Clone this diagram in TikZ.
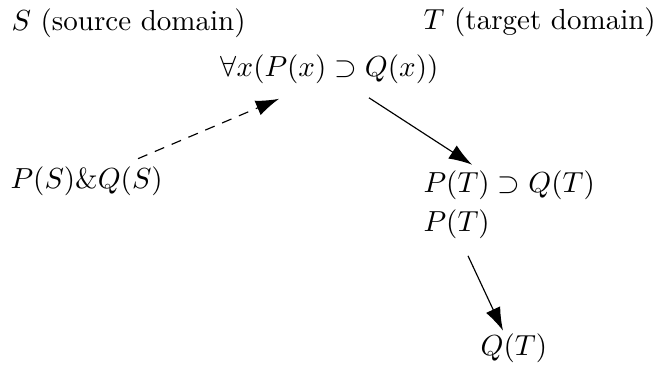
\documentclass[tikz,border=0pt]{standalone}
\usepackage{amsmath}
\usepackage{amssymb}
\usetikzlibrary{arrows.meta,positioning,calc}

\tikzset{
    lbl/.style={inner sep=0pt, anchor=base west},
    arr/.style={-{Latex[length=8pt,width=5.4pt]}}
}

\begin{document}
\begin{tikzpicture}[x=0.3448pt,y=-0.3448pt]

    \useasboundingbox (0,0) rectangle (657,368);

    % 1. Domain headings
    \node[lbl] (src) at (11,31) {$S$ (source domain)};
    \node[lbl] (tgt) at (423,30) {$T$ (target domain)};

    % 2. Formulas
    \node[lbl] (fa)  at (220,77)  {$\forall x(P(x)\supset Q(x))$};
    \node[lbl] (pqs) at (10,189)  {$P(S)\&Q(S)$};
    \node[lbl] (imp) at (423,193) {$P(T)\supset Q(T)$};
    \node[lbl] (pt)  at (423,232) {$P(T)$};
    \node[lbl] (qt)  at (480,356) {$Q(T)$};

    % 3. Arrows
    \draw[arr, dash pattern=on 3.5pt off 2.8pt] ([shift={(128,-8)}]pqs.north west) -- ([shift={(59,14)}]fa.south west);
    \draw[arr] ([shift={(149,13)}]fa.south west) -- ([shift={(49,-6)}]imp.north west);
    \draw[arr] ([shift={(45,16)}]pt.south west) -- ([shift={(23,-3)}]qt.north west);

\end{tikzpicture}
\end{document}
